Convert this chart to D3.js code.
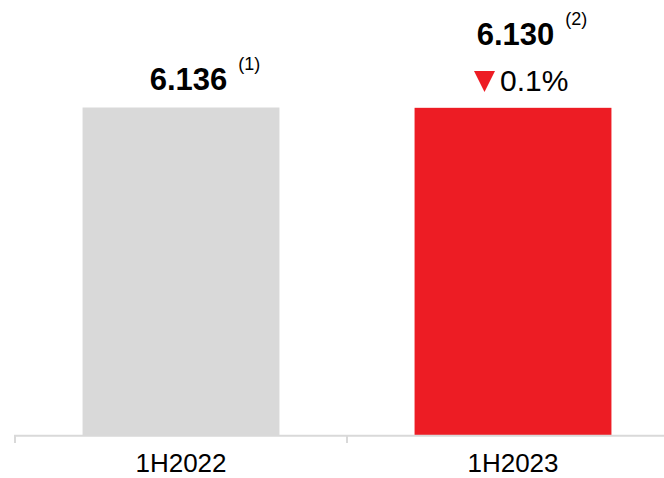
<!DOCTYPE html>
<html>
<head>
<meta charset="utf-8">
<script src="https://cdn.jsdelivr.net/npm/d3@7"></script>
<style>
  body { margin: 0; background: #fff; }
  svg { display: block; font-family: "Liberation Sans", Arial, sans-serif; }
</style>
</head>
<body>
<svg id="chart" width="664" height="478"></svg>
<script>
// data
var periods = ["1H2022", "1H2023"];
var values = [6.136, 6.130];
var valueLabels = ["6.136", "6.130"];
var notes = ["(1)", "(2)"];
var barColors = ["#d9d9d9", "#ed1c24"];
var change = "0.1%";

var svg = d3.select("#chart");
var baseY = 435;

var x = d3.scaleBand()
  .domain(periods)
  .range([15, 679])
  .paddingInner(0.407)
  .paddingOuter(0.2035);

var y = d3.scaleLinear()
  .domain([0, 6.136])
  .range([baseY, 107.5]);

// bars
svg.selectAll(".bar")
  .data(periods)
  .enter()
  .append("rect")
  .attr("x", d => x(d))
  .attr("width", x.bandwidth())
  .attr("y", (d, i) => y(values[i]))
  .attr("height", (d, i) => baseY - y(values[i]))
  .attr("fill", (d, i) => barColors[i]);

// axis line + ticks at band boundaries
svg.append("line")
  .attr("x1", 14).attr("x2", 664)
  .attr("y1", baseY + 0.8).attr("y2", baseY + 0.8)
  .attr("stroke", "#d9d9d9").attr("stroke-width", 2);

var bounds = periods.map(d => x(d) - x.step() * x.paddingInner() / 2);
bounds[0] = x.range()[0];
svg.selectAll(".tick")
  .data(bounds)
  .enter()
  .append("line")
  .attr("x1", d => d).attr("x2", d => d)
  .attr("y1", baseY).attr("y2", baseY + 8)
  .attr("stroke", "#d9d9d9").attr("stroke-width", 2);

// category labels
svg.selectAll(".cat")
  .data(periods)
  .enter()
  .append("text")
  .attr("x", d => x(d) + x.bandwidth() / 2)
  .attr("y", 472)
  .attr("text-anchor", "middle")
  .attr("font-size", 26)
  .attr("fill", "#000")
  .text(d => d);

// value labels (second bar's label is raised above the change label)
var labelY = [90, 45];
var labelX = [188.5, 515.5];
var vals = svg.selectAll(".val")
  .data(valueLabels)
  .enter()
  .append("text")
  .attr("x", (d, i) => labelX[i])
  .attr("y", (d, i) => labelY[i])
  .attr("text-anchor", "middle")
  .attr("font-size", 31)
  .attr("font-weight", "bold")
  .attr("fill", "#000")
  .text(d => d);

var ends = [];
vals.each(function () {
  var b = this.getBBox();
  ends.push(b.x + b.width);
});

svg.selectAll(".note")
  .data(notes)
  .enter()
  .append("text")
  .attr("x", (d, i) => ends[i] + 11)
  .attr("y", (d, i) => labelY[i] - 20)
  .attr("font-size", 18)
  .attr("fill", "#000")
  .text(d => d);

// change indicator
svg.append("path")
  .attr("d", "M474,71 L495,71 L484.5,92 Z")
  .attr("fill", "#ed1c24");

svg.append("text")
  .attr("x", 500)
  .attr("y", 91)
  .attr("font-size", 30)
  .attr("fill", "#000")
  .text(change);
</script>
</body>
</html>
